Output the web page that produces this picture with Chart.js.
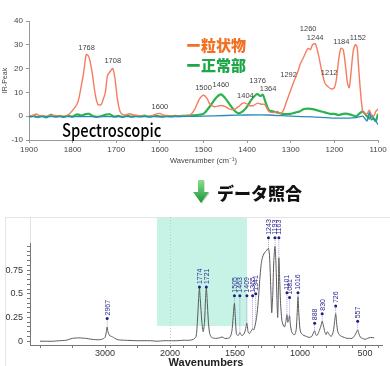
<!DOCTYPE html>
<html lang="ja">
<head>
<meta charset="UTF-8">
<title>IR spectrum comparison</title>
<script src="https://cdn.jsdelivr.net/npm/chart.js"></script>
<style>
  html, body { margin: 0; padding: 0; background: #fff; }
  body { width: 390px; height: 366px; position: relative; overflow: hidden; font-family: "Liberation Sans", Arial, sans-serif; }
  #topWrap { position: absolute; left: 0; top: 0; width: 390px; height: 168px; }
  #botWrap { position: absolute; left: 0; top: 217px; width: 390px; height: 155px; }
  .frame { position: absolute; left: 5px; top: 217px; width: 390px; height: 160px; border: 1px solid #e4e4e4; box-sizing: border-box; }
  .legend { position: absolute; left: 186px; font: 900 15px "Noto Sans CJK JP", sans-serif; line-height: 18px; }
  .spec { position: absolute; left: 62px; top: 118px; font: 500 18px "Noto Sans CJK JP", sans-serif; line-height: 22px; color: #000; transform: scaleX(0.82); transform-origin: left center; }
  .heading { position: absolute; left: 217px; top: 182px; font: 900 17px "Noto Sans CJK JP", sans-serif; line-height: 22px; color: #111; }
  svg.arrow { position: absolute; left: 190px; top: 178px; }
</style>
</head>
<body>
<div class="frame"></div>
<div id="topWrap"><canvas id="topChart"></canvas></div>
<div id="botWrap"><canvas id="botChart"></canvas></div>

<div class="legend" style="top:36px;color:#f36f21;">ー粒状物</div>
<div class="legend" style="top:56px;color:#1fa64a;">ー正常部</div>
<div class="spec">Spectroscopic</div>

<svg class="arrow" width="22" height="28" viewBox="0 0 22 28">
  <defs>
    <linearGradient id="ag" x1="0" y1="0" x2="0" y2="1">
      <stop offset="0" stop-color="#8fdc8a"/>
      <stop offset="1" stop-color="#17963a"/>
    </linearGradient>
  </defs>
  <polygon points="8,2 14,2 14,14 19,14 11,25 3,14 8,14" fill="#bbb" opacity="0.5" transform="translate(1,1)"/>
  <polygon points="8,2 14,2 14,14 19,14 11,25 3,14 8,14" fill="url(#ag)"/>
</svg>
<div class="heading">データ照合</div>

<script>
// ---------- top chart data (wavenumber, IR-Peak) ----------
const granWn = [1900,1890,1884,1875,1860,1850,1840,1820,1810,1800,1790,1785,1780,1775,1770,1768,1762,1755,1748,1742,1735,1730,1725,1720,1713,1708,1703,1698,1693,1688,1680,1670,1660,1640,1620,1610,1600,1592,1580,1560,1540,1530,1520,1510,1500,1492,1485,1475,1460,1450,1440,1430,1420,1410,1404,1395,1385,1376,1368,1360,1350,1340,1330,1325,1318,1310,1300,1292,1285,1278,1270,1265,1260,1255,1250,1244,1238,1230,1222,1215,1208,1200,1195,1190,1185,1180,1175,1170,1166,1162,1157,1152,1148,1145,1140,1135,1130,1125,1120,1115,1110,1105,1100];
const granVal = [0,0.3,0.9,0.2,0,0.1,0.3,0,0.6,2.5,5,8,13,18,25,26,24.5,18,9,5,4.8,7,10,17,19,20,16,8,3,1,0.5,1,0.5,0,0,0.8,1.2,0.5,0,0,0,0.5,3,7,8.8,7.5,5,4,4.5,4,3,2.8,4,5.5,5.5,4.5,4.5,5.5,5,5,2,1.5,2,1,2,6,11,15,18,22,25,27,28.5,28,30,30.5,27,20,14,12.5,11.5,12,16,24,28.5,28,22,14,12,18,27,30,29,22,10,2,1,1,2.5,0.5,0,2,3];

const normWn = [1900,1890,1880,1870,1860,1850,1840,1830,1820,1810,1800,1790,1780,1770,1762,1755,1745,1735,1725,1715,1705,1695,1685,1675,1665,1655,1645,1635,1625,1615,1605,1595,1585,1575,1565,1555,1545,1535,1520,1510,1500,1490,1480,1470,1460,1450,1440,1430,1420,1410,1400,1390,1380,1376,1370,1364,1358,1350,1340,1330,1320,1300,1290,1280,1270,1260,1250,1240,1230,1220,1210,1200,1190,1180,1170,1160,1150,1140,1135,1130,1125,1120,1115,1110,1105,1100];
const normVal = [-0.3,0.2,-0.4,0.1,-0.5,0.6,-0.2,0.1,-0.3,0.2,-0.2,0.8,0.3,0.9,1.0,0.2,-0.3,0,0.6,0.8,-0.2,0.1,-0.3,0.2,-0.2,0.1,-0.1,0.2,-0.2,0.1,0,-0.2,0.1,-0.1,0.1,0,0.2,0.3,0.4,0.6,1,3,5.5,8,9.2,7.5,5,2.5,1.2,2,4,7,9,9.3,8.5,9,6,2.5,2,1.5,1,1,1.5,2,3,3.2,3,2.5,2,1.5,1,1,0.5,1,1,0.5,0,1.5,2,1,0,-1,0.5,-1,-2,1];

const baseWn = [1900,1800,1700,1600,1540,1500,1450,1400,1350,1320,1300,1250,1200,1150,1135,1130,1125,1120,1115,1110,1105,1100];
const baseVal = [-0.2,-0.2,-0.2,-0.2,-0.1,0,0.3,0.5,0.5,0.2,0,-0.3,-0.8,-0.6,0,-1,-2,1.5,-1.5,-1,-2,-3.5];

// labels over the particle spectrum: text, label x (wavenumber), label y (IR-Peak units)
const peakTxt = ['1768','1708','1600','1500','1460','1404','1376','1364','1292','1260','1244','1212','1184','1152'];
const peakTxtWn = [1768,1708,1600,1500,1460,1404,1376,1352,1305,1260,1244,1212,1184,1146];
const peakTxtY = [28.6,23.1,3.8,11.8,13,8.4,14.7,11.3,17.2,36.6,32.8,18,31,32.8];

const topTicksX = [1900,1800,1700,1600,1500,1400,1300,1200,1100];

// ---------- bottom chart data (library spectrum, absorbance) ----------
const libWn = [4000,3800,3700,3600,3500,3400,3300,3200,3100,3050,3000,2980,2967,2955,2930,2900,2870,2850,2800,2700,2500,2300,2200,2100,2000,1950,1900,1850,1820,1800,1790,1780,1774,1768,1755,1745,1735,1727,1721,1715,1705,1695,1680,1650,1620,1600,1580,1560,1540,1525,1515,1505,1498,1490,1480,1470,1463,1455,1445,1430,1420,1409,1400,1390,1380,1370,1365,1355,1341,1330,1320,1310,1300,1290,1275,1260,1250,1243,1235,1225,1218,1210,1202,1193,1185,1178,1172,1166,1163,1158,1150,1140,1130,1120,1110,1101,1095,1088,1081,1075,1065,1050,1040,1030,1022,1016,1010,1000,990,970,950,930,910,900,888,880,870,855,840,830,820,810,800,790,780,770,760,745,735,726,718,710,700,680,660,640,620,600,580,565,557,548,535,520,500,480,460,430];
const libVal = [0,0,0.005,0.01,0.03,0.035,0.03,0.02,0.015,0.02,0.04,0.1,0.15,0.1,0.06,0.05,0.04,0.03,0.015,0.01,0.005,0.005,0,0.005,0.005,0.005,0.01,0.01,0.02,0.05,0.2,0.45,0.56,0.45,0.2,0.1,0.2,0.45,0.56,0.45,0.2,0.08,0.04,0.03,0.035,0.045,0.03,0.03,0.04,0.1,0.25,0.4,0.25,0.08,0.06,0.07,0.09,0.07,0.06,0.08,0.12,0.19,0.1,0.08,0.1,0.12,0.13,0.12,0.2,0.3,0.45,0.65,0.8,0.88,0.93,0.95,0.97,0.98,0.9,0.55,0.3,0.5,0.85,1.0,0.8,0.45,0.25,0.6,0.88,0.7,0.4,0.22,0.17,0.15,0.2,0.28,0.2,0.22,0.27,0.18,0.1,0.07,0.07,0.12,0.3,0.47,0.3,0.12,0.08,0.06,0.05,0.04,0.05,0.08,0.11,0.07,0.06,0.1,0.16,0.21,0.16,0.1,0.07,0.1,0.08,0.06,0.05,0.1,0.2,0.29,0.18,0.1,0.07,0.05,0.04,0.03,0.03,0.03,0.06,0.1,0.12,0.08,0.04,0.03,0.02,0.03,0.04,0.035];

// picked peaks: wavenumber, peak height, marker height
const pickWn = [2967,1774,1721,1505,1463,1409,1365,1341,1243,1193,1163,1101,1081,1016,888,830,726,557];
const pickPeak = [0.15,0.56,0.56,0.4,0.09,0.19,0.13,0.2,0.98,1.0,0.88,0.28,0.27,0.47,0.11,0.21,0.29,0.12];
const pickMark = [0.24,0.57,0.57,0.48,0.48,0.48,0.48,0.5,1.09,1.09,1.09,0.51,0.46,0.51,0.19,0.29,0.37,0.21];

const matchRange = [2200, 1408];   // highlighted search window (wavenumber)
const matchBottom = 0.16;

const botTicksWn = [4000,3500,3000,2500,2000,1900,1800,1700,1600,1500,1400,1300,1200,1100,1000,900,800,700,600,500,400];
const botLabelWn = [3000,2000,1500,1000,500];

// compressed axis above 2000 cm-1
function toAxis(w) { return w > 2000 ? 2000 + (w - 2000) / 2 : w; }
function fromAxis(u) { return u > 2000 ? 2000 + (u - 2000) * 2 : u; }

const pts = (xs, ys, f) => xs.map((x, i) => ({x: f ? f(x) : x, y: ys[i]}));

// ---------- top chart ----------
const topLabels = {
  id: 'topLabels',
  afterDatasetsDraw(chart) {
    const {ctx, scales: {x, y}} = chart;
    ctx.save();
    ctx.font = '7.5px "Liberation Sans", Arial, sans-serif';
    ctx.fillStyle = '#444';
    ctx.textAlign = 'center';
    ctx.textBaseline = 'middle';
    peakTxt.forEach((t, i) => ctx.fillText(t, x.getPixelForValue(peakTxtWn[i]), y.getPixelForValue(peakTxtY[i])));
    ctx.restore();
  }
};

new Chart(document.getElementById('topChart'), {
  type: 'line',
  data: {
    datasets: [
      { label: 'base', data: pts(baseWn, baseVal), borderColor: '#2a8bb8', borderWidth: 1.3, pointRadius: 0, tension: 0.2 },
      { label: '粒状物', data: pts(granWn, granVal), borderColor: '#f47c60', borderWidth: 1.4, pointRadius: 0, tension: 0.3 },
      { label: '正常部', data: pts(normWn, normVal), borderColor: '#2cb34e', borderWidth: 2.2, pointRadius: 0, tension: 0.3 }
    ]
  },
  options: {
    responsive: true, maintainAspectRatio: false, animation: false,
    layout: { padding: { top: 21, right: 12, left: 0, bottom: 0 } },
    plugins: { legend: { display: false }, tooltip: { enabled: false } },
    scales: {
      x: {
        type: 'linear', reverse: true, min: 1100, max: 1900,
        afterBuildTicks: a => { a.ticks = topTicksX.map(v => ({value: v})); },
        afterFit: s => { s.height = 28; },
        grid: { drawOnChartArea: false, tickLength: 3, color: '#999' },
        border: { color: '#999' },
        ticks: { autoSkip: false, maxRotation: 0, padding: 2, color: '#444', font: { size: 8 }, callback: v => String(v) },
        title: { display: true, text: 'Wavenumber (cm⁻¹)', color: '#444', font: { size: 7.5 }, padding: { bottom: 3 } }
      },
      y: {
        min: -10, max: 40,
        afterFit: s => { s.width = 29; },
        grid: { drawOnChartArea: false, tickLength: 3, color: '#999' },
        border: { color: '#999' },
        ticks: { stepSize: 10, padding: 3, color: '#444', font: { size: 8 } },
        title: { display: true, text: 'IR-Peak', color: '#444', font: { size: 7 }, padding: { top: 1 } }
      }
    }
  },
  plugins: [topLabels]
});

// ---------- bottom chart ----------
const libDecor = {
  id: 'libDecor',
  beforeDatasetsDraw(chart) {
    const {ctx, chartArea, scales: {x, y}} = chart;
    ctx.save();
    // highlighted window
    const x1 = x.getPixelForValue(toAxis(matchRange[0]));
    const x2 = x.getPixelForValue(toAxis(matchRange[1]));
    ctx.fillStyle = '#c6f3e6';
    ctx.fillRect(x1, 1, x2 - x1, y.getPixelForValue(matchBottom) - 1);
    // frame line at the axis and dotted 2000 line
    ctx.strokeStyle = '#e2e2e2';
    ctx.lineWidth = 1;
    ctx.beginPath();
    ctx.moveTo(chartArea.left + 0.5, 0);
    ctx.lineTo(chartArea.left + 0.5, chartArea.top);
    ctx.stroke();
    const x20 = Math.round(x.getPixelForValue(2000)) + 0.5;
    ctx.setLineDash([1, 2]);
    ctx.strokeStyle = '#c8c8c8';
    ctx.beginPath();
    ctx.moveTo(x20, 0);
    ctx.lineTo(x20, chartArea.bottom);
    ctx.stroke();
    ctx.restore();
  },
  afterDatasetsDraw(chart) {
    const {ctx, scales: {x, y}} = chart;
    ctx.save();
    pickWn.forEach((w, i) => {
      const px = x.getPixelForValue(toAxis(w));
      const pm = y.getPixelForValue(pickMark[i]);
      const pp = y.getPixelForValue(pickPeak[i]);
      ctx.strokeStyle = '#8a8ad0';
      ctx.lineWidth = 0.8;
      ctx.setLineDash([1, 1]);
      ctx.beginPath();
      ctx.moveTo(px, pm);
      ctx.lineTo(px, pp);
      ctx.stroke();
      ctx.setLineDash([]);
      ctx.fillStyle = '#1e1e78';
      ctx.beginPath();
      ctx.arc(px, pm, 1.5, 0, Math.PI * 2);
      ctx.fill();
      ctx.translate(px, pm - 3);
      ctx.rotate(-Math.PI / 2);
      ctx.font = '7px "Liberation Sans", Arial, sans-serif';
      ctx.fillStyle = '#2b2b90';
      ctx.textAlign = 'left';
      ctx.textBaseline = 'middle';
      ctx.fillText(String(w), 0, 0.5);
      ctx.setTransform(1, 0, 0, 1, 0, 0);
    });
    ctx.restore();
  }
};

new Chart(document.getElementById('botChart'), {
  type: 'line',
  data: {
    datasets: [
      { label: 'library', data: pts(libWn, libVal, toAxis), borderColor: '#5a5a5a', borderWidth: 1, pointRadius: 0, tension: 0.25 }
    ]
  },
  options: {
    responsive: true, maintainAspectRatio: false, animation: false,
    layout: { padding: { top: 26, right: 8, left: 0, bottom: 0 } },
    plugins: { legend: { display: false }, tooltip: { enabled: false } },
    scales: {
      x: {
        type: 'linear', reverse: true, min: 370, max: 3077,
        afterBuildTicks: a => { a.ticks = botTicksWn.map(w => ({value: toAxis(w)})); },
        afterFit: s => { s.height = 27; },
        grid: { drawOnChartArea: false, tickLength: 3, color: '#777' },
        border: { color: '#777' },
        ticks: {
          autoSkip: false, maxRotation: 0, padding: 0, color: '#333', font: { size: 9 },
          callback: v => { const w = Math.round(fromAxis(v)); return botLabelWn.includes(w) ? String(w) : ''; }
        },
        title: { display: true, text: 'Wavenumbers', color: '#222', font: { size: 11, weight: 'bold' }, padding: { bottom: 2 } }
      },
      y: {
        min: -0.04, max: 1.035,
        afterBuildTicks: a => { const t = []; for (let k = 0; k <= 20; k++) t.push({value: k * 0.05}); a.ticks = t; },
        afterFit: s => { s.width = 30; },
        grid: { drawOnChartArea: false, tickLength: 3, color: '#777' },
        border: { color: '#777' },
        ticks: {
          autoSkip: false, padding: 4, color: '#333', font: { size: 9 },
          callback: v => {
            const k = Math.round(v / 0.05);
            return (k % 5 === 0 && k < 20) ? String(+(k * 0.05).toFixed(2)) : '';
          }
        }
      }
    }
  },
  plugins: [libDecor]
});
</script>
</body>
</html>
